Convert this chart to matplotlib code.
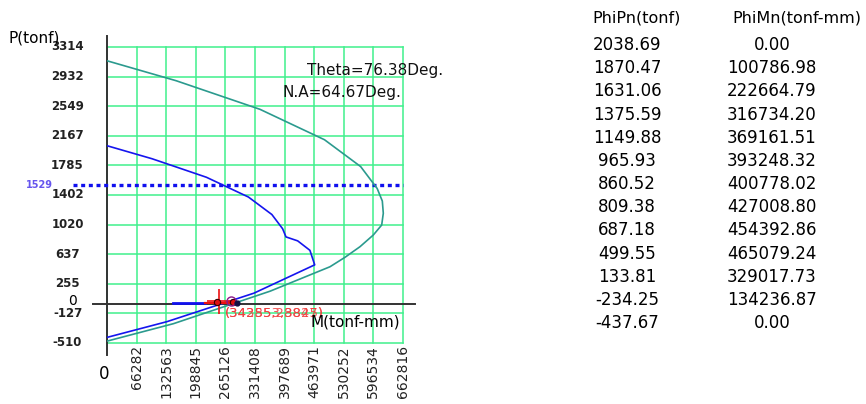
import matplotlib
matplotlib.use("Agg")
import matplotlib.pyplot as plt
import matplotlib.transforms as mtransforms

# design strength curve (table values)
phi_pn = [2038.69, 1870.47, 1631.06, 1375.59, 1149.88, 965.93, 860.52,
          809.38, 687.18, 499.55, 133.81, -234.25, -437.67]
phi_mn = [0.00, 100786.98, 222664.79, 316734.20, 369161.51, 393248.32,
          400778.02, 427008.80, 454392.86, 465079.24, 329017.73, 134236.87, 0.00]

# nominal strength curve
pn = [3136, 2878, 2509, 2116, 1769, 1486, 1324, 1166, 1014, 885, 734,
      597, 475, 160, -260, -486]
mn = [0, 155000, 342500, 487000, 568000, 605000, 616500, 618700, 615100,
      596300, 566500, 532900, 499300, 365500, 149000, 0]

# load points near the origin
seg_blue_m = [148500, 219500]
seg_red_m = [219500, 290000]
seg_p = [10, 10]
pu_m, pu_p = 251000, 35
dots_m = [246700, 281300]
dots_p = [22, 22]
circ_m, circ_p = 276800, 39
load_labels = ["(343553,3825)", "(34285,28847)"]

p_limit = 1529
theta_txt = "Theta=76.38Deg."
na_txt = "N.A=64.67Deg."

y_ticks = [-510, -127, 255, 637, 1020, 1402, 1785, 2167, 2549, 2932, 3314]
x_ticks = [0, 66282, 132563, 198845, 265126, 331408, 397689, 463971,
           530252, 596534, 662816]

W, H = 866, 404
fig = plt.figure(figsize=(W / 100, H / 100), dpi=100)
ax = fig.add_axes([107 / W, 61 / H, 296 / W, 296 / H])
ax.set_xlim(x_ticks[0], x_ticks[-1])
ax.set_ylim(y_ticks[0], y_ticks[-1])
ax.axis("off")

grid_c = "#40f08c"
for xv in x_ticks:
    ax.axvline(xv, color=grid_c, lw=1.1, zorder=1, clip_on=False)
for yv in y_ticks:
    ax.axhline(yv, color=grid_c, lw=1.1, zorder=1, clip_on=False)

# axes lines
ax.axvline(0, ymin=-0.04, ymax=1.037, color="#333333", lw=1.4, zorder=2, clip_on=False)
ax.axhline(0, xmin=-0.047, xmax=1.04, color="#333333", lw=1.4, zorder=2, clip_on=False)

# limit line
ax.axhline(p_limit, xmin=-0.115, xmax=1.0, color="#1010ee", lw=2.4,
           linestyle=(0, (1.2, 1.1)), zorder=3, clip_on=False)

ax.plot(mn, pn, color="#2b9a8e", lw=1.2, zorder=4)
ax.plot(phi_mn, phi_pn, color="#1515ee", lw=1.2, zorder=5)

ax.plot(seg_blue_m, seg_p, color="#1010ee", lw=2, zorder=6)
ax.plot(seg_red_m, seg_p, color="#ee1111", lw=1.6, zorder=6)
ax.plot([pu_m], [pu_p], marker="+", ms=18, mew=1.2, color="#ee1111", zorder=7)
ax.plot(dots_m, dots_p, "o", ms=4.5, mfc="#dd1111", mec="#330000", mew=0.8, zorder=7)
ax.plot([circ_m], [circ_p], "o", ms=6.5, mfc="none", mec="#8b1a8b", mew=1.0, zorder=7)
ax.plot([seg_red_m[1]], [seg_p[1]], "o", ms=3.5, color="#111144", zorder=7)

for lab in load_labels:
    fig.text(225 / W, 1 - 313 / H, lab, color="#f03c3c", fontsize=9.5,
             ha="left", va="center", alpha=0.85)

# tick labels
ty = mtransforms.blended_transform_factory(ax.transAxes, ax.transData)
for yv in y_ticks:
    ax.text(-0.1334, yv, str(yv), transform=ty, ha="center", va="center",
            fontsize=8.5, fontweight="bold", color="#222222")
zero_off = ty + mtransforms.ScaledTranslation(0, 2 / 72, fig.dpi_scale_trans)
ax.text(-0.1166, 0, "0", transform=zero_off, ha="center", va="center", fontsize=10)

tx = mtransforms.blended_transform_factory(ax.transData, fig.transFigure)
for xv in x_ticks[1:]:
    ax.text(xv, 1 - 345 / H, str(xv), transform=tx, rotation=90,
            ha="center", va="top", fontsize=10, color="#222222")
fig.text(104 / W, 1 - 374 / H, "0", ha="center", va="center", fontsize=12)

ax.text(-0.2736, p_limit, str(p_limit), transform=ty, ha="left", va="center",
        fontsize=7, fontweight="bold", color="#6655ee")

fig.text(8 / W, 1 - 38 / H, "P(tonf)", ha="left", va="center", fontsize=11)
fig.text(311 / W, 1 - 322 / H, "M(tonf-mm)", ha="left", va="center", fontsize=11)
fig.text(307 / W, 1 - 70 / H, theta_txt, ha="left", va="center", fontsize=11, color="#111111")
fig.text(282 / W, 1 - 92 / H, na_txt, ha="left", va="center", fontsize=11, color="#111111")

# result table
fig.text(637 / W, 1 - 18 / H, "PhiPn(tonf)", ha="center", va="center", fontsize=11.5)
fig.text(797 / W, 1 - 18 / H, "PhiMn(tonf-mm)", ha="center", va="center", fontsize=11.5)
for i, (p, m) in enumerate(zip(phi_pn, phi_mn)):
    y = 1 - (45 + 23.17 * i) / H
    fig.text(627 / W, y, f"{p:.2f}", ha="center", va="center", fontsize=12)
    fig.text(772 / W, y, f"{m:.2f}", ha="center", va="center", fontsize=12)

fig.savefig("out.png", dpi=100)
